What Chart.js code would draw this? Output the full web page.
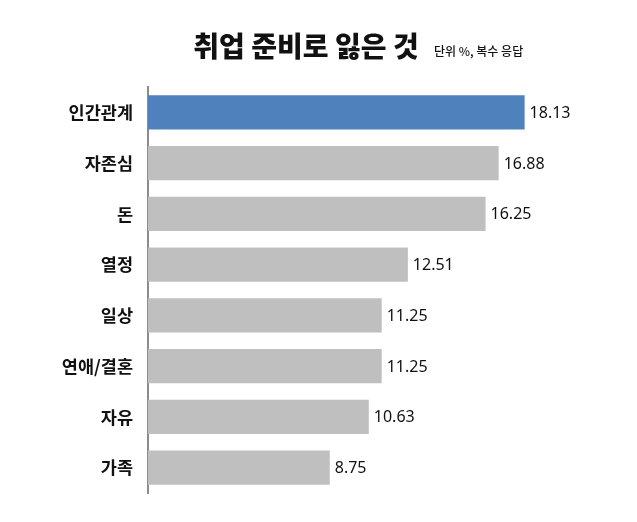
<!DOCTYPE html>
<html>
<head>
<meta charset="utf-8">
<script src="https://cdn.jsdelivr.net/npm/chart.js@4/dist/chart.umd.min.js"></script>
<style>
  html, body { margin: 0; padding: 0; background: #fff; }
  #wrap { width: 637px; height: 522px; }
</style>
</head>
<body>
<div id="wrap"><canvas id="chart"></canvas></div>
<script>
const categories = ["인간관계", "자존심", "돈", "열정", "일상", "연애/결혼", "자유", "가족"];
const values = [18.13, 16.88, 16.25, 12.51, 11.25, 11.25, 10.63, 8.75];
const titleText = "취업 준비로 잃은 것";
const subtitleText = "단위 %, 복수 응답";

const KR = "'Noto Sans CJK KR', 'Noto Sans', sans-serif";

const barColors = values.map((v, i) => (i === 0 ? "#4f81bd" : "#bfbfbf"));

// title + subtitle drawn on the canvas
const titlePlugin = {
  id: "titleRow",
  afterDraw(chart) {
    const ctx = chart.ctx;
    ctx.save();
    ctx.fillStyle = "#111";
    ctx.textBaseline = "alphabetic";
    ctx.font = "900 28px " + KR;
    ctx.textAlign = "left";
    const w = ctx.measureText(titleText).width;
    ctx.fillText(titleText, 306 - w / 2, 57);
    ctx.font = "500 12px " + KR;
    ctx.fillText(subtitleText, 434, 56);
    ctx.restore();
  }
};

// value labels at bar ends
const valueLabels = {
  id: "valueLabels",
  afterDatasetsDraw(chart) {
    const ctx = chart.ctx;
    const meta = chart.getDatasetMeta(0);
    ctx.save();
    ctx.fillStyle = "#111";
    ctx.font = "16px 'Noto Sans', sans-serif";
    ctx.textAlign = "left";
    ctx.textBaseline = "middle";
    meta.data.forEach((bar, i) => {
      ctx.fillText(values[i].toFixed(2), bar.x + 5, bar.y + 1);
    });
    ctx.restore();
  }
};

new Chart(document.getElementById("chart"), {
  type: "bar",
  data: {
    labels: categories,
    datasets: [{
      data: values,
      backgroundColor: barColors,
      borderWidth: 0,
      categoryPercentage: 1,
      barPercentage: 0.67
    }]
  },
  options: {
    indexAxis: "y",
    responsive: true,
    maintainAspectRatio: false,
    animation: false,
    layout: { padding: { top: 87, bottom: 29, left: 0, right: 32 } },
    plugins: {
      legend: { display: false },
      tooltip: { enabled: false }
    },
    scales: {
      x: {
        display: false,
        min: 0,
        max: 22
      },
      y: {
        afterFit(scale) { scale.width = 148; },
        grid: { display: false, drawTicks: false },
        border: { display: true, color: "#8c8c8c", width: 2 },
        ticks: {
          padding: 15,
          color: "#111",
          font: { family: KR, size: 17.5, weight: "bold" }
        }
      }
    }
  },
  plugins: [titlePlugin, valueLabels]
});
</script>
</body>
</html>
